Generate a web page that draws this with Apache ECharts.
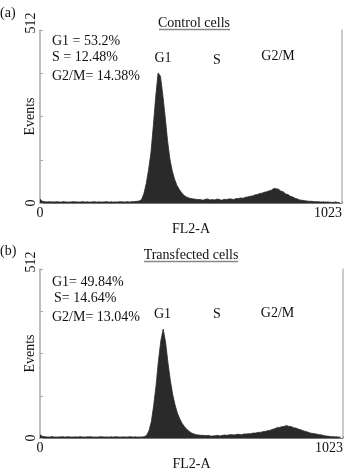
<!DOCTYPE html>
<html>
<head>
<meta charset="utf-8">
<script src="https://cdn.jsdelivr.net/npm/echarts@6/dist/echarts.min.js"></script>
<style>
html,body{margin:0;padding:0;background:#fff;}
#c{width:354px;height:472px;}
</style>
</head>
<body>
<div id="c"></div>
<script>
// FL2-A channel (bin start, 8 channels per bin)
const channels = [0,8,16,24,32,40,48,56,64,72,80,88,96,104,112,120,128,136,144,152,160,168,176,184,192,200,208,216,224,232,240,248,256,264,272,280,288,296,304,312,320,328,336,344,352,360,368,376,384,392,400,408,416,424,432,440,448,456,464,472,480,488,496,504,512,520,528,536,544,552,560,568,576,584,592,600,608,616,624,632,640,648,656,664,672,680,688,696,704,712,720,728,736,744,752,760,768,776,784,792,800,808,816,824,832,840,848,856,864,872,880,888,896,904,912,920,928,936,944,952,960,968,976,984,992,1000,1008,1016];

// Events, control cells (a)
const controlEvents = [12,5,
  4,3,4,3,3,4,3,3,4,3, 3,3,4,3,3,3,4,3,3,3, 3,4,3,3,3,3,4,3,3,3, 3,3,4,3,3,4,3,4,4,5,
  6,
  10,28,58,100,150,230,315,385,375,320,255,185,130,95,70,52,40,30,22,18,15,13,12,11,10,
  10,8,11,12,9,10,9,12,10,8,11,10,12,12,10,13,13,
  15,14,17,18,20,21,24,25,28,29,32,33,36,38,43,42,
  41,35,33,27,25,20,18,14,12,9,8,7,6,5,5,4,4,4,3,3,3,3,2,2,2,2,1];

// Events, transfected cells (b)
const transfectedEvents = [10,5,
  4,3,3,4,3,3,3,4,3,3, 4,3,3,3,3,4,3,3,3,4, 3,3,3,3,4,3,3,3,3,3, 4,3,3,3,3,3,4,3,3,3, 3,3,
  4,8,22,50,100,160,235,295,330,290,228,175,132,100,75,58,44,34,26,20,15,12,10,9,8,
  8,7,8,6,6,7,8,6,8,9, 8,10,10,9,11,11,10,12,12,13, 13,15,15,17,17,19,20,22,23,26,
  28,31,32,34,35,38,35,35,31,30, 27,25,22,20,18,15,14,13,11,10, 9,7,6,5,4,4,3,3,2];

const panelTitles = ['Control cells', 'Transfected cells'];
const panelTags = ['(a)', '(b)'];
const controlStats = ['G1 = 53.2%', 'S = 12.48%', 'G2/M= 14.38%'];
const transfectedStats = ['G1= 49.84%', 'S= 14.64%', 'G2/M= 13.04%'];
const phaseLabels = ['G1', 'S', 'G2/M'];
const yTickLabels = [0, 512];
const xTickLabels = [0, 1023];
const xName = 'FL2-A';
const yName = 'Events';

const FONT = '"Liberation Serif", "DejaVu Serif", serif';
const chart = echarts.init(document.getElementById('c'), null, {renderer: 'canvas'});

function pairs(vals){ return channels.map((c,i)=>[c, vals[i]]); }

const grids = [
  {left: 40, top: 30, width: 302, height: 173},
  {left: 40, top: 269, width: 303, height: 177}
];

function xAxisFor(i){
  return {
    type: 'value', gridIndex: i, min: xTickLabels[0], max: xTickLabels[1], interval: 40,
    name: xName, nameLocation: 'middle', nameGap: 19, nameMoveOverlap: false,
    nameTextStyle: {fontFamily: FONT, fontSize: 14, color: '#111'},
    axisLine: {show: true, lineStyle: {color: '#777', width: 1}},
    axisTick: {show: true, inside: true, length: 2, lineStyle: {color: '#999'}},
    splitLine: {show: false},
    axisLabel: {
      show: true, margin: 3, fontFamily: FONT, fontSize: 14, color: '#111',
      showMinLabel: true, showMaxLabel: true, alignMinLabel: 'center', alignMaxLabel: 'right',
      formatter: v => (v === xTickLabels[0] || v === xTickLabels[1]) ? String(v) : ''
    }
  };
}
function yAxisFor(i){
  return {
    type: 'value', gridIndex: i, min: yTickLabels[0], max: yTickLabels[1], interval: 128,
    name: yName, nameLocation: 'middle', nameGap: 3, nameMoveOverlap: false,
    nameTextStyle: {fontFamily: FONT, fontSize: 14, color: '#111'},
    axisLine: {show: true, lineStyle: {color: '#aaa', width: 1.5}},
    axisTick: {show: true, inside: true, length: 3, lineStyle: {color: '#aaa'}},
    splitLine: {show: false},
    axisLabel: {
      show: true, rotate: 90, margin: 2, fontFamily: FONT, fontSize: 14, color: '#111',
      showMinLabel: true, showMaxLabel: true,
      formatter: v => v === yTickLabels[1] ? '\u2002\u2002' + v : (v === yTickLabels[0] ? String(v) : '')
    }
  };
}
function rightBorder(i){
  return {
    type: 'value', gridIndex: i, position: 'right', min: 0, max: 512,
    axisLine: {show: true, lineStyle: {color: '#bbb', width: 1.5}},
    axisTick: {show: false}, axisLabel: {show: false}, splitLine: {show: false}
  };
}

const textStyleBase = {fontFamily: FONT, fontSize: 14, fill: '#111'};
function txt(text, x, y, align){
  return {type: 'text', style: Object.assign({}, textStyleBase, {text, x, y, textAlign: align || 'left', textVerticalAlign: 'middle'})};
}
function line(x1, x2, y){
  return {type: 'line', shape: {x1, y1: y, x2, y2: y}, style: {stroke: '#888', lineWidth: 1.5}};
}

const graphics = [
  txt(panelTags[0], 0, 13),
  txt(panelTitles[0], 194, 23, 'center'),
  line(159, 230, 29.5),
  txt(controlStats[0], 52, 41.5),
  txt(controlStats[1], 52, 57.5),
  txt(controlStats[2], 52, 76),
  txt(phaseLabels[0], 163, 58.5, 'center'),
  txt(phaseLabels[1], 217, 60, 'center'),
  txt(phaseLabels[2], 278, 56.5, 'center'),

  txt(panelTags[1], 0, 251),
  txt(panelTitles[1], 191, 255, 'center'),
  line(144, 238, 261.5),
  txt(transfectedStats[0], 52, 282),
  txt(transfectedStats[1], 54, 298.5),
  txt(transfectedStats[2], 52, 317),
  txt(phaseLabels[0], 162.5, 314, 'center'),
  txt(phaseLabels[1], 217, 314, 'center'),
  txt(phaseLabels[2], 277.5, 313, 'center')
];

const seriesStyle = {
  type: 'line', showSymbol: false, symbol: 'none', smooth: false,
  lineStyle: {color: '#2a2a2a', width: 0.8},
  areaStyle: {color: '#2a2a2a', opacity: 1},
  itemStyle: {color: '#2a2a2a'},
  animation: false, silent: true
};

chart.setOption({
  animation: false,
  backgroundColor: '#fff',
  grid: grids,
  xAxis: [xAxisFor(0), xAxisFor(1)],
  yAxis: [yAxisFor(0), yAxisFor(1), rightBorder(0), rightBorder(1)],
  series: [
    Object.assign({}, seriesStyle, {name: panelTitles[0], xAxisIndex: 0, yAxisIndex: 0, data: pairs(controlEvents)}),
    Object.assign({}, seriesStyle, {name: panelTitles[1], xAxisIndex: 1, yAxisIndex: 1, data: pairs(transfectedEvents)})
  ],
  graphic: graphics
});
</script>
</body>
</html>
